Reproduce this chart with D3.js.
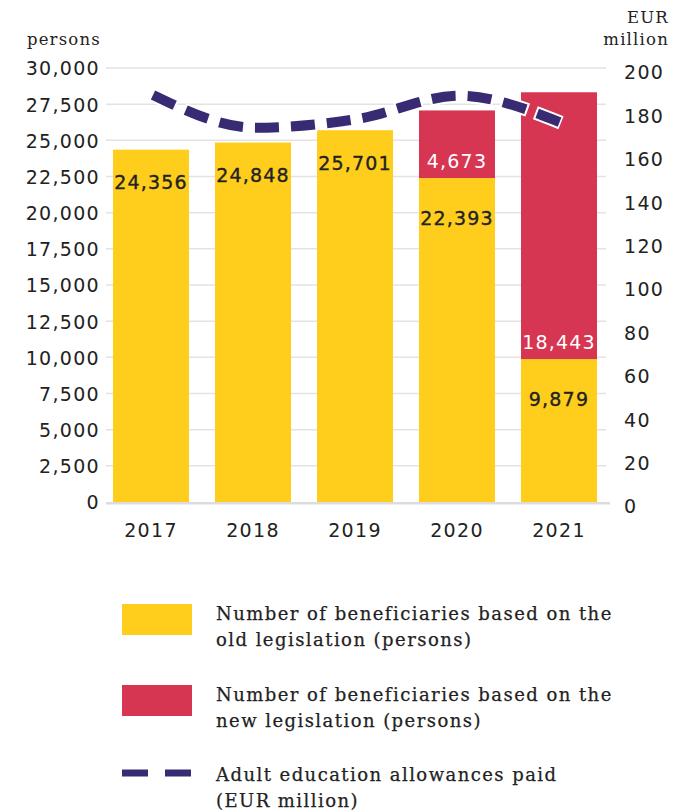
<!DOCTYPE html>
<html>
<head>
<meta charset="utf-8">
<script src="https://cdn.jsdelivr.net/npm/d3@7"></script>
<style>
  html, body { margin: 0; padding: 0; background: #ffffff; }
  svg { display: block; }
</style>
</head>
<body>
<svg id="chart" width="684" height="810"></svg>
<script>
// ---- data ----
const years = ["2017", "2018", "2019", "2020", "2021"];
const oldLegislation = [24356, 24848, 25701, 22393, 9879];
const newLegislation = [0, 0, 0, 4673, 18443];
const allowancesPaid = [187.6, 172.5, 176.5, 187.2, 174.8];
const leftTicks = [0, 2500, 5000, 7500, 10000, 12500, 15000, 17500, 20000, 22500, 25000, 27500, 30000];
const rightTicks = [0, 20, 40, 60, 80, 100, 120, 140, 160, 180, 200];
const legendLabels = [
  ["Number of beneficiaries based on the", "old legislation (persons)"],
  ["Number of beneficiaries based on the", "new legislation (persons)"],
  ["Adult education allowances paid", "(EUR million)"]
];

const YELLOW = "#FFCD1C", RED = "#D63651", PURPLE = "#382A73", TEXT = "#222222";
const numFont = "'DejaVu Sans', sans-serif";
const serifFont = "'DejaVu Serif', serif";

const svg = d3.select("#chart");
const plotLeft = 106, plotRight = 606, plotTop = 68, plotBottom = 502;

const x = d3.scaleBand().domain(years).range([100, 610]).paddingInner(0.255).paddingOuter(0.1275);
const y = d3.scaleLinear().domain([0, 30000]).range([plotBottom, plotTop]);
const yR = d3.scaleLinear().domain([0, 200]).range([plotBottom, plotTop]);
const fmt = d3.format(",");

// gridlines
svg.append("g").selectAll("line").data(leftTicks.filter(d => d > 0)).join("line")
  .attr("x1", plotLeft).attr("x2", plotRight)
  .attr("y1", d => y(d)).attr("y2", d => y(d))
  .attr("stroke", "#e3e3e3").attr("stroke-width", 1.5);

// left axis
const leftAxis = d3.axisLeft(y).tickValues(leftTicks).tickFormat(fmt).tickSize(0).tickPadding(0);
const gL = svg.append("g").attr("transform", `translate(${100},0)`).call(leftAxis);
gL.select(".domain").remove();
gL.selectAll("text").attr("font-family", numFont).attr("font-size", 19)
  .attr("letter-spacing", "1.3px").attr("fill", TEXT).attr("dy", "0.36em");

// right axis
const rightAxis = d3.axisRight(yR).tickValues(rightTicks).tickSize(0).tickPadding(0);
const gR = svg.append("g").attr("transform", `translate(${624},4)`).call(rightAxis);
gR.select(".domain").remove();
gR.selectAll("text").attr("font-family", numFont).attr("font-size", 19)
  .attr("letter-spacing", "1.3px").attr("fill", TEXT).attr("dy", "0.36em");

// axis titles
const titleAttrs = sel => sel.attr("text-anchor", "end").attr("font-family", serifFont)
  .attr("font-size", 16.5).attr("letter-spacing", "1.2px").attr("fill", TEXT);
svg.append("text").attr("x", 101).attr("y", 45).call(titleAttrs).text("persons");
svg.append("text").attr("x", 669).attr("y", 23).call(titleAttrs).text("EUR");
svg.append("text").attr("x", 669).attr("y", 45).call(titleAttrs).text("million");

// bars
const barData = years.map((yr, i) => ({ yr, old: oldLegislation[i], nw: newLegislation[i] }));
svg.append("g").selectAll("rect").data(barData).join("rect")
  .attr("x", d => x(d.yr)).attr("width", x.bandwidth())
  .attr("y", d => y(d.old)).attr("height", d => y(0) - y(d.old))
  .attr("fill", YELLOW);
svg.append("g").selectAll("rect").data(barData.filter(d => d.nw > 0)).join("rect")
  .attr("x", d => x(d.yr)).attr("width", x.bandwidth())
  .attr("y", d => y(d.old + d.nw)).attr("height", d => y(d.old) - y(d.old + d.nw))
  .attr("fill", RED);

// baseline
svg.append("line").attr("x1", plotLeft).attr("x2", 610)
  .attr("y1", plotBottom + 1.3).attr("y2", plotBottom + 1.3)
  .attr("stroke", "#dcdcdc").attr("stroke-width", 2.6);

// x axis labels
const xAxis = d3.axisBottom(x).tickSize(0).tickPadding(0);
const gX = svg.append("g").attr("transform", `translate(0,${530})`).call(xAxis);
gX.select(".domain").remove();
gX.selectAll("text").attr("font-family", numFont).attr("font-size", 19)
  .attr("letter-spacing", "1.3px").attr("fill", TEXT).attr("dy", "0.36em");

// bar value labels
svg.append("g").selectAll("text").data(barData).join("text")
  .attr("x", d => x(d.yr) + x.bandwidth() / 2)
  .attr("y", d => y(d.old) + (d.nw > 0 ? 40 : 33)).attr("dy", "0.36em")
  .attr("text-anchor", "middle").attr("font-family", numFont).attr("font-size", 19)
  .attr("letter-spacing", "1.2px").attr("fill", TEXT)
  .attr("stroke", TEXT).attr("stroke-width", 0.35)
  .text(d => fmt(d.old));
svg.append("g").selectAll("text").data(barData.filter(d => d.nw > 0)).join("text")
  .attr("x", d => x(d.yr) + x.bandwidth() / 2)
  .attr("y", d => y(d.old) - 17).attr("dy", "0.36em")
  .attr("text-anchor", "middle").attr("font-family", numFont).attr("font-size", 19)
  .attr("letter-spacing", "1.2px").attr("fill", "#ffffff")
  .text(d => fmt(d.nw));

// line
const lineData = years.map((yr, i) => ({ yr, v: allowancesPaid[i] }));
const line = d3.line().x(d => x(d.yr) + x.bandwidth() / 2 + 2).y(d => yR(d.v)).curve(d3.curveMonotoneX);
svg.append("path").datum(lineData).attr("d", line)
  .attr("fill", "none").attr("stroke", "#ffffff").attr("stroke-width", 14)
  .attr("stroke-dasharray", "28,8").attr("stroke-dashoffset", 2);
svg.append("path").datum(lineData).attr("d", line)
  .attr("fill", "none").attr("stroke", PURPLE).attr("stroke-width", 10)
  .attr("stroke-dasharray", "24,12");

// legend
const lg = svg.append("g");
lg.append("rect").attr("x", 122).attr("y", 604).attr("width", 70).attr("height", 31).attr("fill", YELLOW);
lg.append("rect").attr("x", 122).attr("y", 685).attr("width", 70).attr("height", 31).attr("fill", RED);
lg.append("line").attr("x1", 122).attr("x2", 192).attr("y1", 773).attr("y2", 773)
  .attr("stroke", PURPLE).attr("stroke-width", 7).attr("stroke-dasharray", "26,17");
const legendY = [620, 701, 781];
legendLabels.forEach((lines, i) => {
  lines.forEach((t, j) => {
    lg.append("text").attr("x", 216).attr("y", legendY[i] + j * 26)
      .attr("font-family", serifFont).attr("font-size", 18).attr("letter-spacing", "1.45px")
      .attr("fill", TEXT).attr("stroke", TEXT).attr("stroke-width", 0.25).text(t);
  });
});
</script>
</body>
</html>
